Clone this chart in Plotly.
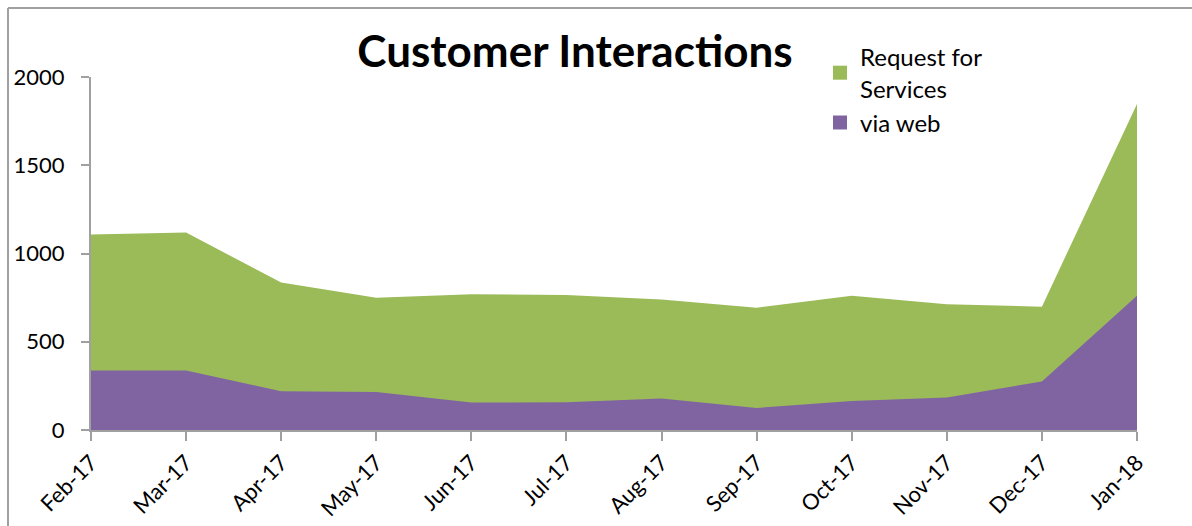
import plotly.graph_objects as go

months = ["Feb-17", "Mar-17", "Apr-17", "May-17", "Jun-17", "Jul-17",
          "Aug-17", "Sep-17", "Oct-17", "Nov-17", "Dec-17", "Jan-18"]
request_for_services = [1108, 1119, 835, 750, 769, 765, 739, 693, 760, 712, 699, 1847]
via_web = [337, 337, 220, 216, 156, 157, 178, 125, 165, 184, 275, 760]

GREEN = "#9BBB59"
PURPLE = "#8064A2"
FONT = "Lato, 'Open Sans', sans-serif"

fig = go.Figure()
fig.add_trace(go.Scatter(x=months, y=request_for_services, name="Request for<br>Services",
                         mode="lines", line=dict(width=0, color=GREEN),
                         fill="tozeroy", fillcolor=GREEN, showlegend=False))
fig.add_trace(go.Scatter(x=months, y=via_web, name="via web",
                         mode="lines", line=dict(width=0, color=PURPLE),
                         fill="tozeroy", fillcolor=PURPLE, showlegend=False))
# legend entries with square swatches
fig.add_trace(go.Scatter(x=[None], y=[None], name="Request for<br>Services", mode="markers",
                         marker=dict(symbol="square", size=14, color=GREEN)))
fig.add_trace(go.Scatter(x=[None], y=[None], name="via web", mode="markers",
                         marker=dict(symbol="square", size=14, color=PURPLE)))

W, H = 1192, 526
L, R, T, B = 91, 55, 77, 96
pw, ph = W - L - R, H - T - B

def px(xp):
    return (xp - L) / pw

def py(yp):
    return (H - B - yp) / ph

fig.update_layout(
    width=W, height=H,
    margin=dict(l=L, r=R, t=T, b=B, autoexpand=False),
    paper_bgcolor="white", plot_bgcolor="white",
    font=dict(family=FONT, size=22, color="black"),
    title=dict(text="<b>Customer Interactions</b>", xref="container", x=575 / W,
               xanchor="center", yref="container", y=1 - 52 / H, yanchor="middle",
               font=dict(family=FONT, size=44, color="black")),
    showlegend=True,
    legend=dict(x=px(820), y=py(35), xanchor="left", yanchor="top",
                font=dict(family=FONT, size=24, color="black"),
                bgcolor="rgba(0,0,0,0)", traceorder="normal",
                itemwidth=30, tracegroupgap=0),
    xaxis=dict(type="category", range=[0, 11], showgrid=False, zeroline=False,
               automargin=False,
               showline=True, linecolor="#A0A0A0", linewidth=2,
               ticks="outside", ticklen=9, tickcolor="#A0A0A0", tickwidth=2,
               tickangle=-45, tickfont=dict(family=FONT, size=22, color="black")),
    yaxis=dict(range=[0, 2000], tickvals=[0, 500, 1000, 1500, 2000],
               showgrid=False, zeroline=False, automargin=False,
               showline=True, linecolor="#A0A0A0", linewidth=2,
               ticks="outside", ticklen=8, tickcolor="#A0A0A0", tickwidth=2,
               ticklabelstandoff=12,
               tickfont=dict(family=FONT, size=22, color="black")),
    shapes=[
        dict(type="line", xref="paper", yref="paper", x0=px(8), x1=px(1200),
             y0=py(8), y1=py(8), line=dict(color="#A0A0A0", width=2)),
        dict(type="line", xref="paper", yref="paper", x0=px(8), x1=px(8),
             y0=py(8), y1=py(540), line=dict(color="#A0A0A0", width=2)),
    ],
)

fig.write_html("out.html", config={"displayModeBar": False},
               post_script="document.body.style.margin='0';document.body.style.overflow='hidden';")
